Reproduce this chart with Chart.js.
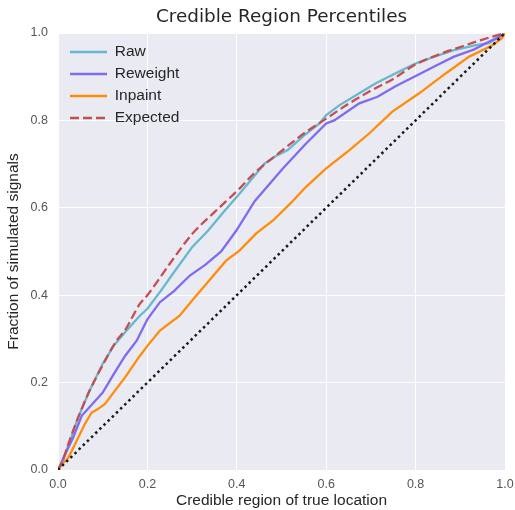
<!DOCTYPE html>
<html>
<head>
<meta charset="utf-8">
<script src="https://cdn.jsdelivr.net/npm/chart.js@4/dist/chart.umd.min.js"></script>
<style>
    html, body { margin: 0; padding: 0; background: #ffffff; }
    #wrap { width: 515px; height: 510px; }
</style>
</head>
<body>
<div id="wrap"><canvas id="c" width="515" height="510"></canvas></div>
<script>
// values
const rawX = [0, 0.01, 0.019, 0.03, 0.045, 0.07, 0.1, 0.125, 0.15, 0.183, 0.2, 0.23, 0.257, 0.3, 0.336, 0.37, 0.406, 0.44, 0.462, 0.49, 0.514, 0.55, 0.585, 0.6, 0.63, 0.674, 0.711, 0.75, 0.797, 0.84, 0.886, 0.935, 0.964, 0.985, 1.0];
const rawY = [0, 0.02, 0.044, 0.075, 0.12, 0.18, 0.243, 0.285, 0.315, 0.353, 0.369, 0.41, 0.449, 0.51, 0.548, 0.59, 0.632, 0.674, 0.701, 0.72, 0.732, 0.765, 0.793, 0.812, 0.835, 0.862, 0.885, 0.905, 0.929, 0.945, 0.961, 0.972, 0.977, 0.99, 1.0];

const reweightX = [0, 0.016, 0.034, 0.053, 0.083, 0.1, 0.125, 0.15, 0.176, 0.2, 0.228, 0.26, 0.295, 0.33, 0.365, 0.399, 0.44, 0.451, 0.503, 0.555, 0.6, 0.618, 0.674, 0.715, 0.755, 0.797, 0.845, 0.886, 0.93, 0.964, 0.985, 1.0];
const reweightY = [0, 0.036, 0.074, 0.124, 0.158, 0.177, 0.22, 0.261, 0.296, 0.345, 0.384, 0.41, 0.445, 0.47, 0.5, 0.548, 0.615, 0.628, 0.69, 0.747, 0.793, 0.8, 0.839, 0.854, 0.878, 0.9, 0.925, 0.946, 0.962, 0.98, 0.99, 1.0];

const inpaintX = [0, 0.01, 0.023, 0.038, 0.06, 0.075, 0.09, 0.105, 0.13, 0.15, 0.183, 0.2, 0.228, 0.272, 0.302, 0.332, 0.376, 0.406, 0.443, 0.481, 0.52, 0.555, 0.6, 0.652, 0.696, 0.748, 0.808, 0.868, 0.92, 0.972, 0.993, 1.0];
const inpaintY = [0, 0.015, 0.028, 0.059, 0.105, 0.131, 0.14, 0.151, 0.185, 0.212, 0.261, 0.284, 0.319, 0.353, 0.39, 0.426, 0.479, 0.502, 0.541, 0.571, 0.61, 0.648, 0.69, 0.732, 0.77, 0.82, 0.862, 0.908, 0.946, 0.972, 0.988, 1.0];

const expectedX = [0, 0.01, 0.025, 0.045, 0.07, 0.1, 0.131, 0.15, 0.183, 0.2, 0.25, 0.3, 0.35, 0.406, 0.44, 0.5, 0.55, 0.6, 0.65, 0.7, 0.75, 0.8, 0.85, 0.9, 0.95, 1.0];
const expectedY = [0, 0.02, 0.065, 0.12, 0.18, 0.24, 0.296, 0.32, 0.38, 0.4, 0.472, 0.54, 0.59, 0.644, 0.68, 0.73, 0.77, 0.804, 0.838, 0.868, 0.895, 0.928, 0.95, 0.968, 0.985, 1.0];

const diagX = [0, 1];
const diagY = [0, 1];

const seriesLabels = ['Raw', 'Reweight', 'Inpaint', 'Expected'];
const tickValues = [0, 0.2, 0.4, 0.6, 0.8, 1.0];

function toPoints(xs, ys) {
    return xs.map((x, i) => ({ x: x, y: ys[i] }));
}

const plotBackground = {
    id: 'plotBackground',
    beforeDraw(chart) {
        const a = chart.chartArea;
        const ctx = chart.ctx;
        ctx.save();
        ctx.fillStyle = '#EAEAF2';
        ctx.fillRect(a.left, a.top, a.right - a.left, a.bottom - a.top);
        ctx.restore();

        // legend box sits inside the axes, upper left
        if (chart.legend) {
            chart.legend.left = a.left + 5.5;
            chart.legend.top = a.top + 4.75;
        }
    }
};

// title centred over the axes, like matplotlib does it
const axesTitle = {
    id: 'axesTitle',
    afterDraw(chart) {
        const a = chart.chartArea;
        const ctx = chart.ctx;
        ctx.save();
        ctx.fillStyle = '#262626';
        ctx.font = '18.4px "DejaVu Sans"';
        ctx.textAlign = 'center';
        ctx.textBaseline = 'middle';
        ctx.fillText('Credible Region Percentiles', (a.left + a.right) / 2, 17);
        ctx.restore();
    }
};

const tickFont = { family: '"Liberation Sans", Arial, sans-serif', size: 12.5 };
const labelFont = { family: '"Liberation Sans", Arial, sans-serif', size: 15.5 };

new Chart(document.getElementById('c'), {
    type: 'line',
    data: {
        datasets: [
            {
                label: seriesLabels[0],
                data: toPoints(rawX, rawY),
                borderColor: '#67B8CF',
                backgroundColor: '#67B8CF',
                borderWidth: 2.3,
                pointRadius: 0,
                tension: 0,
                order: 4
            },
            {
                label: seriesLabels[1],
                data: toPoints(reweightX, reweightY),
                borderColor: '#7E6BF0',
                backgroundColor: '#7E6BF0',
                borderWidth: 2.3,
                pointRadius: 0,
                tension: 0,
                order: 3
            },
            {
                label: seriesLabels[2],
                data: toPoints(inpaintX, inpaintY),
                borderColor: '#FF8C0A',
                backgroundColor: '#FF8C0A',
                borderWidth: 2.3,
                pointRadius: 0,
                tension: 0,
                order: 2
            },
            {
                label: seriesLabels[3],
                data: toPoints(expectedX, expectedY),
                borderColor: '#C44E52',
                backgroundColor: '#C44E52',
                borderWidth: 2.3,
                borderDash: [9, 4],
                pointRadius: 0,
                cubicInterpolationMode: 'monotone',
                order: 1
            },
            {
                label: '',
                data: toPoints(diagX, diagY),
                borderColor: '#1a1a1a',
                borderWidth: 2.5,
                borderDash: [2.5, 3.3],
                pointRadius: 0,
                tension: 0,
                order: 0
            }
        ]
    },
    options: {
        responsive: false,
        devicePixelRatio: 1,
        animation: false,
        layout: { padding: { left: 0, right: 0, top: 33, bottom: 0 } },
        plugins: {
            title: { display: false },
            tooltip: { enabled: false },
            legend: {
                display: true,
                position: 'chartArea',
                align: 'start',
                labels: {
                    usePointStyle: true,
                    pointStyle: 'line',
                    pointStyleWidth: 37,
                    padding: 6.5,
                    color: '#262626',
                    font: labelFont,
                    filter: item => item.text !== '',
                    sort: (a, b) => a.datasetIndex - b.datasetIndex,
                    generateLabels: function (chart) {
                        const items = Chart.defaults.plugins.legend.labels.generateLabels(chart);
                        items.forEach(item => {
                            const ds = chart.data.datasets[item.datasetIndex];
                            item.lineDash = ds.borderDash || [];
                            item.lineWidth = 2.5;
                            item.strokeStyle = ds.borderColor;
                        });
                        return items;
                    }
                }
            }
        },
        scales: {
            x: {
                type: 'linear',
                min: 0,
                max: 1,
                afterFit: scale => {
                    scale.height = 40;
                    scale.paddingLeft = 0;
                    scale.paddingRight = 10;
                },
                afterBuildTicks: scale => { scale.ticks = tickValues.map(v => ({ value: v })); },
                grid: { color: '#ffffff', lineWidth: 1, drawTicks: false },
                border: { display: false },
                ticks: {
                    padding: 7,
                    color: '#555555',
                    font: tickFont,
                    maxRotation: 0,
                    callback: v => Number(v).toFixed(1)
                },
                title: {
                    display: true,
                    text: 'Credible region of true location',
                    color: '#262626',
                    font: labelFont,
                    padding: { top: 4, bottom: 0 }
                }
            },
            y: {
                type: 'linear',
                min: 0,
                max: 1,
                afterFit: scale => {
                    scale.width = 58;
                    scale.paddingTop = 0;
                    scale.paddingBottom = 0;
                },
                afterBuildTicks: scale => { scale.ticks = tickValues.map(v => ({ value: v })); },
                grid: { color: '#ffffff', lineWidth: 1, drawTicks: false },
                border: { display: false },
                ticks: {
                    padding: 10,
                    color: '#555555',
                    font: tickFont,
                    callback: v => Number(v).toFixed(1)
                },
                title: {
                    display: true,
                    text: 'Fraction of simulated signals',
                    color: '#262626',
                    font: labelFont,
                    padding: { top: 4, bottom: 4 }
                }
            }
        }
    },
    plugins: [plotBackground, axesTitle]
});
</script>
</body>
</html>
